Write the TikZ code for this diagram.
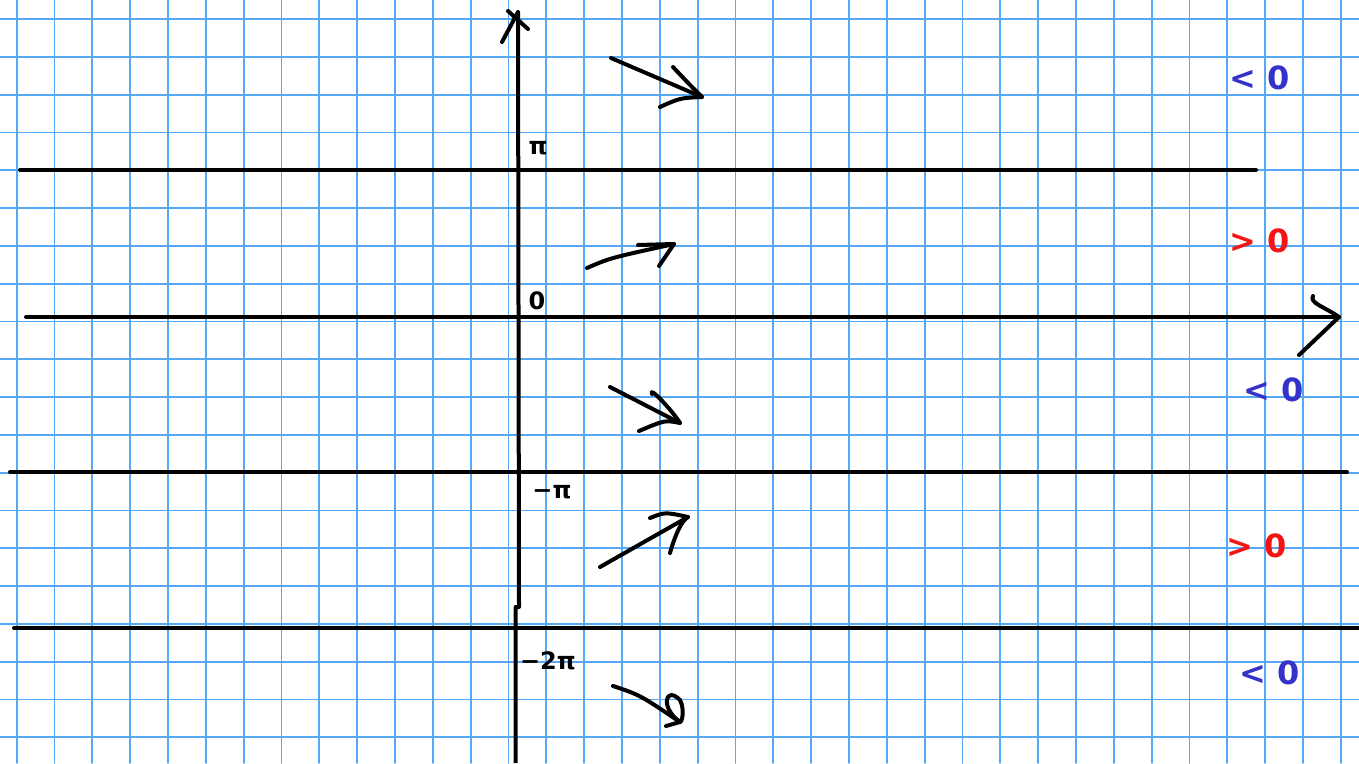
\documentclass[tikz,border=0pt]{standalone}
\usepackage{fontspec}
\setmainfont{DejaVu Sans}
\usetikzlibrary{positioning}

\definecolor{gridblue}{RGB}{85,168,245}
\definecolor{penblue}{RGB}{52,50,200}
\definecolor{penred}{RGB}{245,20,20}

\begin{document}
\begin{tikzpicture}[x=1pt,y=-1pt,line cap=round,line join=round,
    gridline/.style={gridblue,line width=1.8pt},
    pen/.style={black,line width=4pt},
    axislabel/.style={font=\bfseries\fontsize{24}{24}\selectfont,inner sep=0pt},
    signneg/.style={penblue,font=\bfseries\fontsize{32}{32}\selectfont,inner sep=0pt},
    signpos/.style={penred,font=\bfseries\fontsize{32}{32}\selectfont,inner sep=0pt}]
        \useasboundingbox (0,0) rectangle (1359,763);
        \fill[white] (0,0) rectangle (1359,763);
        \foreach \i in {0,...,35}
            \draw[gridline] ({16.7+37.83*\i},0) -- ++(0,763);
        \foreach \j in {0,...,19}
            \draw[gridline] (0,{19+37.8*\j}) -- ++(1359,0);

        \coordinate (ytop) at (518,12);
        \coordinate (xtip) at (1339,317);
        \draw[pen] (20,170) -- (1256,170);
        \draw[pen] (26,317) -- (xtip);
        \draw[pen] (10,472) -- (1347,472);
        \draw[pen] (14,628) -- (1359,628);
        \draw[pen,line cap=butt] (ytop) -- (519,607) -- (515.5,607) -- (515.5,763);
        \draw[pen] (502,42) -- (ytop);
        \draw[pen] (508,11) -- (528,29);
        \draw[pen] (1313,296) .. controls (1309,303) and (1325,307) .. (xtip) -- (1299,355);

        \node[axislabel] (pi) at (538,148) {π};
        \node[axislabel] (zero) at (537,301) {0};
        \node[axislabel] (mpi) at (552,492) {−π};
        \node[axislabel] (mtwopi) at (548,661) {−2π};

        \node[signneg] (s1) at (1260,78) {< 0};
        \node[signpos] (s2) at (1260,241) {> 0};
        \node[signneg] (s3) at (1274,390) {< 0};
        \node[signpos] (s4) at (1257,546) {> 0};
        \node[signneg] (s5) at (1270,673) {< 0};

        \coordinate (a1) at (611,58);   \coordinate (b1) at (702,97);
        \coordinate (a2) at (587,268);  \coordinate (b2) at (674,244);
        \coordinate (a3) at (610,387);  \coordinate (b3) at (680,423);
        \coordinate (a4) at (600,567);  \coordinate (b4) at (688,517);
        \coordinate (a5) at (613,686);  \coordinate (b5) at (680,722);
        \draw[pen] (a1) -- (b1);
        \draw[pen] (673,67) .. controls (690,85) .. (b1) .. controls (680,98) .. (660,107);
        \draw[pen] (a2) .. controls (610,258) .. (b2);
        \draw[pen] (638,245) -- (b2) -- (659,266);
        \draw[pen] (a3) -- (b3);
        \draw[pen] (652,394) .. controls (648,385) and (672,410) .. (b3) .. controls (665,420) .. (639,431);
        \draw[pen] (a4) -- (b4);
        \draw[pen] (650,518) .. controls (665,512) .. (b4) .. controls (682,520) and (675,535) .. (670,553);
        \draw[pen] (a5) .. controls (640,695) .. (b5);
        \draw[pen] (b5) .. controls (660,708) and (665,685) .. (680,700) .. controls (685,710) and (682,722) .. (b5);
        \draw[pen] (b5) -- (666,726);
    \end{tikzpicture}
\end{document}
